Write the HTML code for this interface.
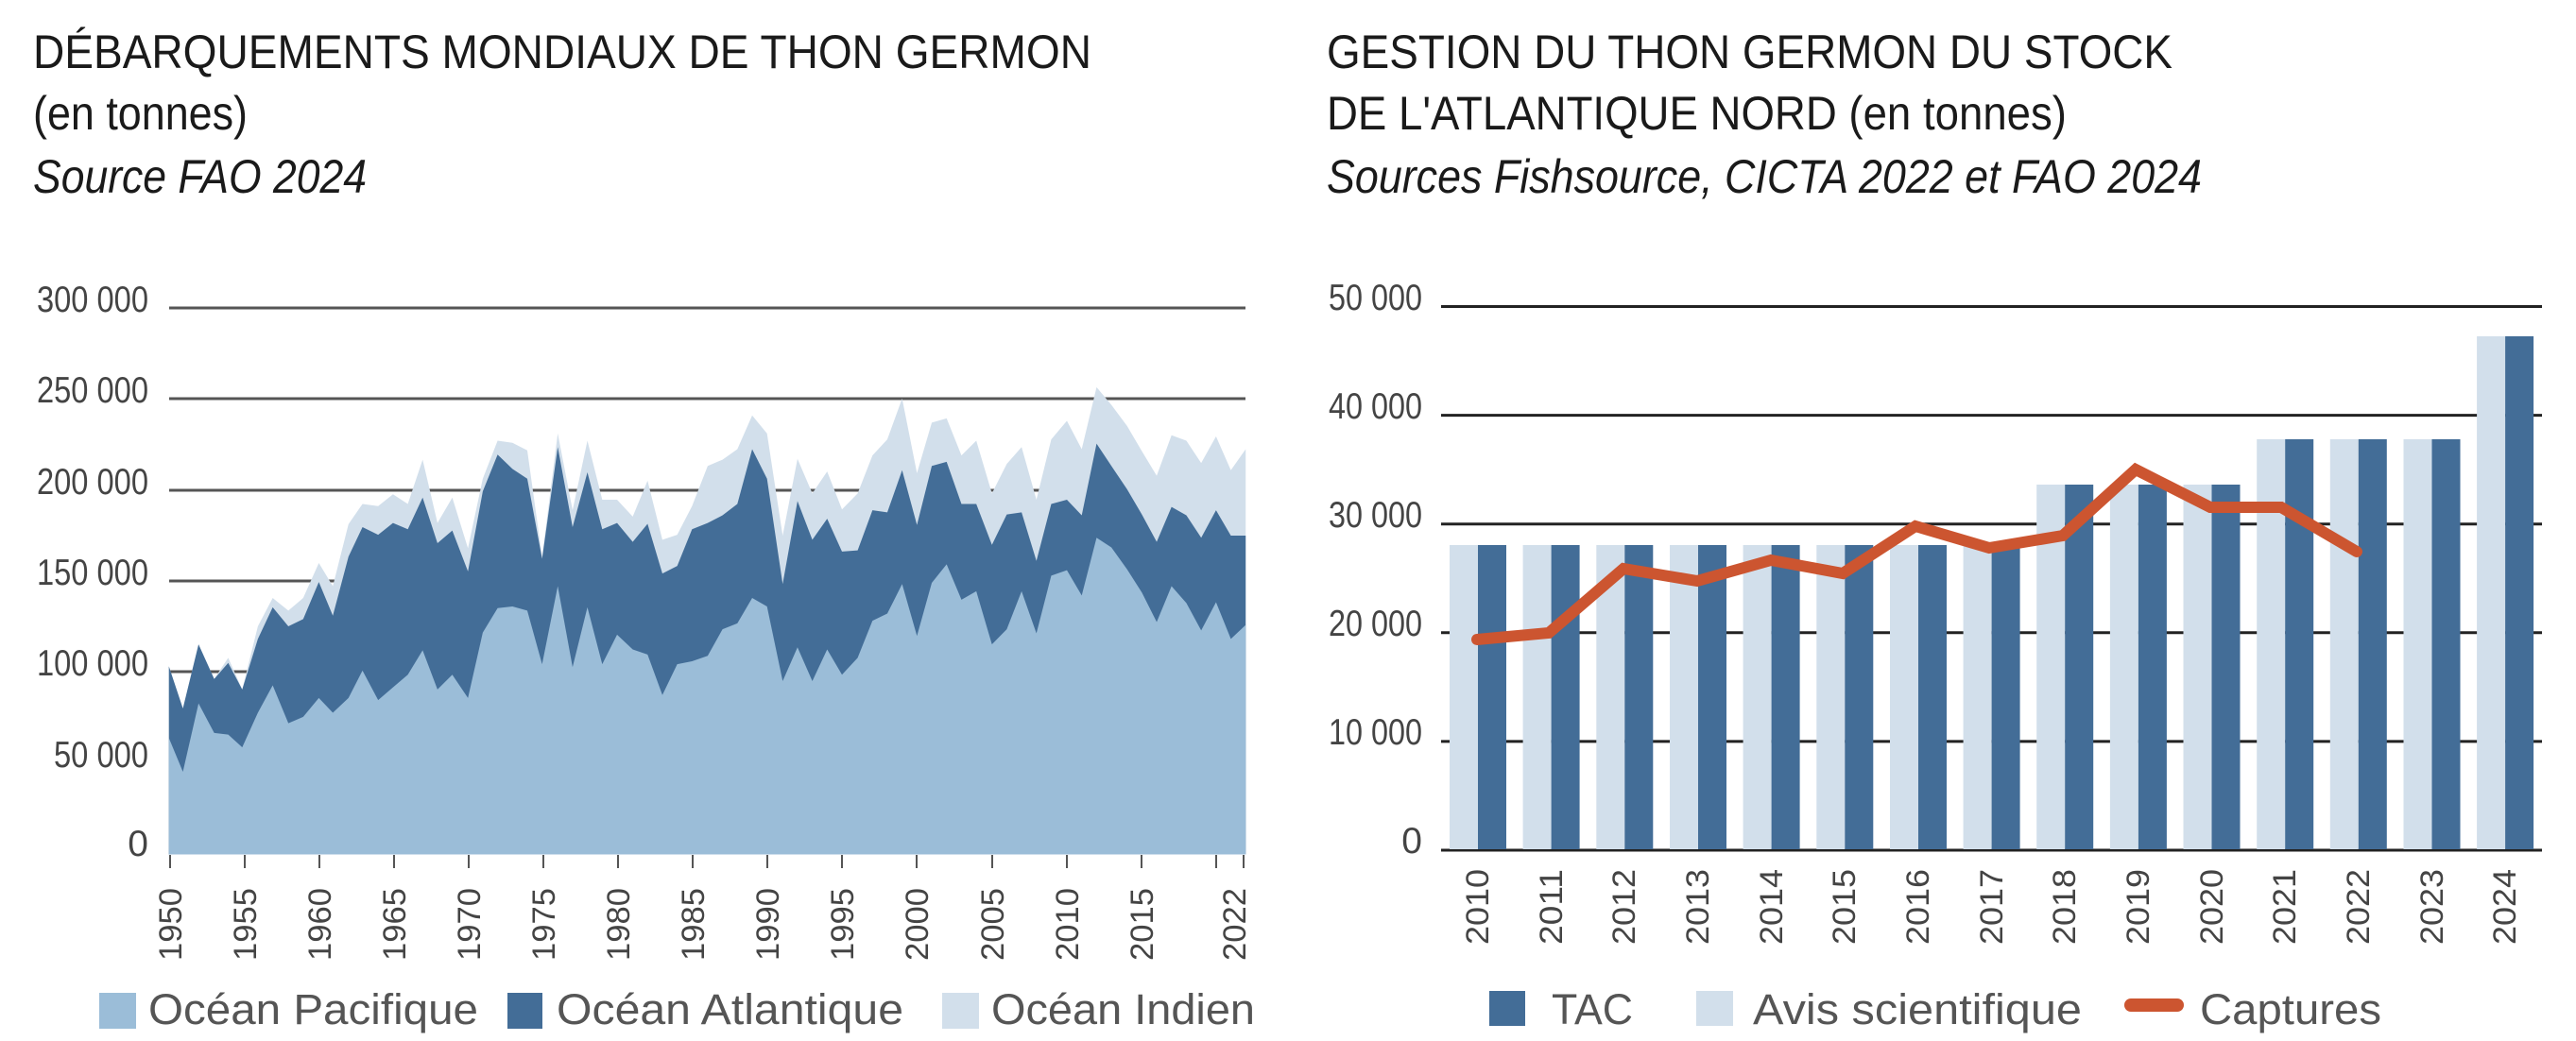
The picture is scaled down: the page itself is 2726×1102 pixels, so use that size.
<!DOCTYPE html>
<html><head><meta charset="utf-8"><style>html,body{margin:0;padding:0;background:#fff;}svg{display:block;}</style></head>
<body>
<svg width="2726" height="1102" viewBox="0 0 2726 1102" xmlns="http://www.w3.org/2000/svg" font-family="'Liberation Sans', sans-serif">
<rect width="2726" height="1102" fill="#fff"/>
<!-- Titles -->
<g fill="#1a1a1a" font-size="50">
<text x="35" y="72" textLength="1120" lengthAdjust="spacingAndGlyphs">DÉBARQUEMENTS MONDIAUX DE THON GERMON</text>
<text x="35" y="137" textLength="227" lengthAdjust="spacingAndGlyphs">(en tonnes)</text>
<text x="35" y="204" font-style="italic" textLength="353" lengthAdjust="spacingAndGlyphs">Source FAO 2024</text>
<text x="1404" y="72" textLength="895" lengthAdjust="spacingAndGlyphs">GESTION DU THON GERMON DU STOCK</text>
<text x="1404" y="137" textLength="783" lengthAdjust="spacingAndGlyphs">DE L'ATLANTIQUE NORD (en tonnes)</text>
<text x="1404" y="204" font-style="italic" textLength="926" lengthAdjust="spacingAndGlyphs">Sources Fishsource, CICTA 2022 et FAO 2024</text>
</g>
<!-- Left chart gridlines -->
<g stroke="#555" stroke-width="3">
<line x1="179" x2="1318" y1="326" y2="326"/>
<line x1="179" x2="1318" y1="422" y2="422"/>
<line x1="179" x2="1318" y1="519" y2="519"/>
<line x1="179" x2="1318" y1="615" y2="615"/>
<line x1="179" x2="1318" y1="711" y2="711"/>
<line x1="179" x2="1318" y1="808" y2="808"/>
</g>
<g fill="#444" font-size="39" text-anchor="end">
<text x="157" y="330" textLength="118" lengthAdjust="spacingAndGlyphs">300 000</text>
<text x="157" y="426" textLength="118" lengthAdjust="spacingAndGlyphs">250 000</text>
<text x="157" y="523" textLength="118" lengthAdjust="spacingAndGlyphs">200 000</text>
<text x="157" y="619" textLength="118" lengthAdjust="spacingAndGlyphs">150 000</text>
<text x="157" y="715" textLength="118" lengthAdjust="spacingAndGlyphs">100 000</text>
<text x="157" y="812" textLength="100" lengthAdjust="spacingAndGlyphs">50 000</text>
<text x="157" y="906">0</text>
</g>
<g transform="translate(0,250) scale(0.87184,0.44643)">
<polygon fill="#d2dfeb" points="205,1020 222,1120 241,968 260,1050 277,1000 294,1075 313,925 331,858 350,888 368,858 387,775 404,830 423,683 440,635 459,640 477,612 495,635 513,530 531,680 549,620 568,740 586,575 604,485 622,490 640,508 658,760 677,468 695,650 713,485 731,625 749,625 768,665 786,580 804,720 822,708 840,640 859,545 877,530 895,505 913,425 931,468 950,710 968,528 986,610 1004,558 1022,648 1041,610 1059,520 1077,482 1095,385 1113,562 1131,442 1149,432 1167,520 1185,485 1204,610 1222,540 1240,500 1258,625 1276,482 1295,438 1313,505 1331,358 1349,400 1368,450 1386,510 1404,568 1422,472 1440,485 1458,538 1476,475 1494,555 1512,505 1512,1466 205,1466"/>
<polygon fill="#436d97" points="205,1020 222,1120 241,968 260,1050 277,1012 294,1075 313,955 331,880 350,925 368,908 387,820 404,900 423,760 440,690 459,708 477,680 495,695 513,620 531,728 549,698 568,795 586,605 604,518 622,552 640,575 658,765 677,500 695,690 713,560 731,695 749,680 768,725 786,682 804,800 822,782 840,695 859,680 877,662 895,635 913,505 931,575 950,825 968,628 986,720 1004,670 1022,748 1041,745 1059,650 1077,655 1095,555 1113,685 1131,545 1149,535 1167,635 1185,635 1204,732 1222,660 1240,655 1258,770 1276,635 1295,625 1313,662 1331,492 1349,545 1368,600 1386,660 1404,725 1422,642 1440,662 1458,715 1476,650 1494,710 1512,710 1512,1466 205,1466"/>
<polygon fill="#9bbdd8" points="205,1190 222,1270 241,1108 260,1178 277,1182 294,1212 313,1130 331,1065 350,1155 368,1140 387,1095 404,1130 423,1095 440,1030 459,1100 477,1070 495,1040 513,982 531,1075 549,1040 568,1095 586,940 604,882 622,878 640,888 658,1015 677,830 695,1022 713,880 731,1015 749,945 768,980 786,992 804,1088 822,1015 840,1008 859,995 877,932 895,918 913,858 931,878 950,1055 968,975 986,1055 1004,980 1022,1040 1041,1000 1059,912 1077,895 1095,825 1113,948 1131,822 1149,778 1167,862 1185,842 1204,968 1222,932 1240,842 1258,942 1276,805 1295,792 1313,852 1331,715 1349,738 1368,790 1386,845 1404,915 1422,830 1440,870 1458,935 1476,868 1494,955 1512,922 1512,1466 205,1466"/>
</g>
<g stroke="#555" stroke-width="2">
<line x1="180" x2="180" y1="905" y2="919"/><line x1="259" x2="259" y1="905" y2="919"/><line x1="338" x2="338" y1="905" y2="919"/><line x1="417" x2="417" y1="905" y2="919"/><line x1="496" x2="496" y1="905" y2="919"/><line x1="575" x2="575" y1="905" y2="919"/><line x1="654" x2="654" y1="905" y2="919"/><line x1="733" x2="733" y1="905" y2="919"/><line x1="812" x2="812" y1="905" y2="919"/><line x1="891" x2="891" y1="905" y2="919"/><line x1="970" x2="970" y1="905" y2="919"/><line x1="1050" x2="1050" y1="905" y2="919"/><line x1="1129" x2="1129" y1="905" y2="919"/><line x1="1208" x2="1208" y1="905" y2="919"/><line x1="1287" x2="1287" y1="905" y2="919"/><line x1="1316" x2="1316" y1="905" y2="919"/>
</g>
<g fill="#444" font-size="34" text-anchor="end">
<text transform="translate(192,940) rotate(-90)" textLength="77" lengthAdjust="spacingAndGlyphs">1950</text>
<text transform="translate(271,940) rotate(-90)" textLength="77" lengthAdjust="spacingAndGlyphs">1955</text>
<text transform="translate(350,940) rotate(-90)" textLength="77" lengthAdjust="spacingAndGlyphs">1960</text>
<text transform="translate(429,940) rotate(-90)" textLength="77" lengthAdjust="spacingAndGlyphs">1965</text>
<text transform="translate(508,940) rotate(-90)" textLength="77" lengthAdjust="spacingAndGlyphs">1970</text>
<text transform="translate(587,940) rotate(-90)" textLength="77" lengthAdjust="spacingAndGlyphs">1975</text>
<text transform="translate(666,940) rotate(-90)" textLength="77" lengthAdjust="spacingAndGlyphs">1980</text>
<text transform="translate(745,940) rotate(-90)" textLength="77" lengthAdjust="spacingAndGlyphs">1985</text>
<text transform="translate(824,940) rotate(-90)" textLength="77" lengthAdjust="spacingAndGlyphs">1990</text>
<text transform="translate(903,940) rotate(-90)" textLength="77" lengthAdjust="spacingAndGlyphs">1995</text>
<text transform="translate(982,940) rotate(-90)" textLength="77" lengthAdjust="spacingAndGlyphs">2000</text>
<text transform="translate(1062,940) rotate(-90)" textLength="77" lengthAdjust="spacingAndGlyphs">2005</text>
<text transform="translate(1141,940) rotate(-90)" textLength="77" lengthAdjust="spacingAndGlyphs">2010</text>
<text transform="translate(1220,940) rotate(-90)" textLength="77" lengthAdjust="spacingAndGlyphs">2015</text>
<text transform="translate(1318,940) rotate(-90)" textLength="77" lengthAdjust="spacingAndGlyphs">2022</text>
</g>
<!-- Left legend -->
<rect x="105" y="1051" width="39" height="38" fill="#9bbdd8"/>
<rect x="537" y="1051" width="37" height="38" fill="#436d97"/>
<rect x="997" y="1051" width="39" height="38" fill="#d2dfeb"/>
<g fill="#555" font-size="45">
<text x="157" y="1084" textLength="349" lengthAdjust="spacingAndGlyphs">Océan Pacifique</text>
<text x="589" y="1084" textLength="367" lengthAdjust="spacingAndGlyphs">Océan Atlantique</text>
<text x="1049" y="1084" textLength="279" lengthAdjust="spacingAndGlyphs">Océan Indien</text>
</g>
<!-- Right chart gridlines -->
<g stroke="#222" stroke-width="3">
<line x1="1525" x2="2690" y1="324.5" y2="324.5"/>
<line x1="1525" x2="2690" y1="439.6" y2="439.6"/>
<line x1="1525" x2="2690" y1="554.7" y2="554.7"/>
<line x1="1525" x2="2690" y1="669.8" y2="669.8"/>
<line x1="1525" x2="2690" y1="784.9" y2="784.9"/>
<line x1="1525" x2="2690" y1="900" y2="900"/>
</g>
<g fill="#444" font-size="39" text-anchor="end">
<text x="1505" y="328" textLength="99" lengthAdjust="spacingAndGlyphs">50 000</text>
<text x="1505" y="443" textLength="99" lengthAdjust="spacingAndGlyphs">40 000</text>
<text x="1505" y="558" textLength="99" lengthAdjust="spacingAndGlyphs">30 000</text>
<text x="1505" y="673" textLength="99" lengthAdjust="spacingAndGlyphs">20 000</text>
<text x="1505" y="788" textLength="99" lengthAdjust="spacingAndGlyphs">10 000</text>
<text x="1505" y="903">0</text>
</g>
<g>
<!-- bars: boundary x = 1564 + i*77.65 -->
<g fill="#d2dfeb">
<rect x="1534" y="577" width="30" height="322"/>
<rect x="1611.6" y="577" width="30" height="322"/>
<rect x="1689.3" y="577" width="30" height="322"/>
<rect x="1767" y="577" width="30" height="322"/>
<rect x="1844.6" y="577" width="30" height="322"/>
<rect x="1922.3" y="577" width="30" height="322"/>
<rect x="2000" y="577" width="30" height="322"/>
<rect x="2077.6" y="577" width="30" height="322"/>
<rect x="2155.2" y="513" width="30" height="386"/>
<rect x="2232.9" y="513" width="30" height="386"/>
<rect x="2310.5" y="513" width="30" height="386"/>
<rect x="2388.2" y="465" width="30" height="434"/>
<rect x="2465.8" y="465" width="30" height="434"/>
<rect x="2543.5" y="465" width="30" height="434"/>
<rect x="2621.1" y="356" width="30" height="543"/>
</g>
<g fill="#436d97">
<rect x="1564" y="577" width="30" height="322"/>
<rect x="1641.6" y="577" width="30" height="322"/>
<rect x="1719.3" y="577" width="30" height="322"/>
<rect x="1797" y="577" width="30" height="322"/>
<rect x="1874.6" y="577" width="30" height="322"/>
<rect x="1952.3" y="577" width="30" height="322"/>
<rect x="2030" y="577" width="30" height="322"/>
<rect x="2107.6" y="577" width="30" height="322"/>
<rect x="2185.2" y="513" width="30" height="386"/>
<rect x="2262.9" y="513" width="30" height="386"/>
<rect x="2340.5" y="513" width="30" height="386"/>
<rect x="2418.2" y="465" width="30" height="434"/>
<rect x="2495.8" y="465" width="30" height="434"/>
<rect x="2573.5" y="465" width="30" height="434"/>
<rect x="2651.1" y="356" width="30" height="543"/>
</g>
</g>
<polyline fill="none" stroke="#cc5530" stroke-width="12" stroke-linejoin="miter" stroke-linecap="round"
points="1563,677 1639,670 1718,602 1796,615 1874,593 1950,607 2027,557 2105,580 2183,567 2260,497 2339,537 2414,537 2494,584"/>
<g fill="#444" font-size="34" text-anchor="end">
<text transform="translate(1575,920) rotate(-90)" textLength="80" lengthAdjust="spacingAndGlyphs">2010</text>
<text transform="translate(1653,920) rotate(-90)" textLength="80" lengthAdjust="spacingAndGlyphs">2011</text>
<text transform="translate(1730,920) rotate(-90)" textLength="80" lengthAdjust="spacingAndGlyphs">2012</text>
<text transform="translate(1808,920) rotate(-90)" textLength="80" lengthAdjust="spacingAndGlyphs">2013</text>
<text transform="translate(1886,920) rotate(-90)" textLength="80" lengthAdjust="spacingAndGlyphs">2014</text>
<text transform="translate(1963,920) rotate(-90)" textLength="80" lengthAdjust="spacingAndGlyphs">2015</text>
<text transform="translate(2041,920) rotate(-90)" textLength="80" lengthAdjust="spacingAndGlyphs">2016</text>
<text transform="translate(2119,920) rotate(-90)" textLength="80" lengthAdjust="spacingAndGlyphs">2017</text>
<text transform="translate(2196,920) rotate(-90)" textLength="80" lengthAdjust="spacingAndGlyphs">2018</text>
<text transform="translate(2274,920) rotate(-90)" textLength="80" lengthAdjust="spacingAndGlyphs">2019</text>
<text transform="translate(2352,920) rotate(-90)" textLength="80" lengthAdjust="spacingAndGlyphs">2020</text>
<text transform="translate(2429,920) rotate(-90)" textLength="80" lengthAdjust="spacingAndGlyphs">2021</text>
<text transform="translate(2507,920) rotate(-90)" textLength="80" lengthAdjust="spacingAndGlyphs">2022</text>
<text transform="translate(2585,920) rotate(-90)" textLength="80" lengthAdjust="spacingAndGlyphs">2023</text>
<text transform="translate(2662,920) rotate(-90)" textLength="80" lengthAdjust="spacingAndGlyphs">2024</text>
</g>
<!-- Right legend -->
<rect x="1576" y="1049" width="38" height="37" fill="#436d97"/>
<rect x="1795" y="1049" width="39" height="37" fill="#d2dfeb"/>
<line x1="2255" x2="2304" y1="1064" y2="1064" stroke="#cc5530" stroke-width="14" stroke-linecap="round"/>
<g fill="#555" font-size="45">
<text x="1642" y="1084" textLength="86" lengthAdjust="spacingAndGlyphs">TAC</text>
<text x="1855" y="1084" textLength="348" lengthAdjust="spacingAndGlyphs">Avis scientifique</text>
<text x="2328" y="1084" textLength="192" lengthAdjust="spacingAndGlyphs">Captures</text>
</g>
</svg>
</body></html>
